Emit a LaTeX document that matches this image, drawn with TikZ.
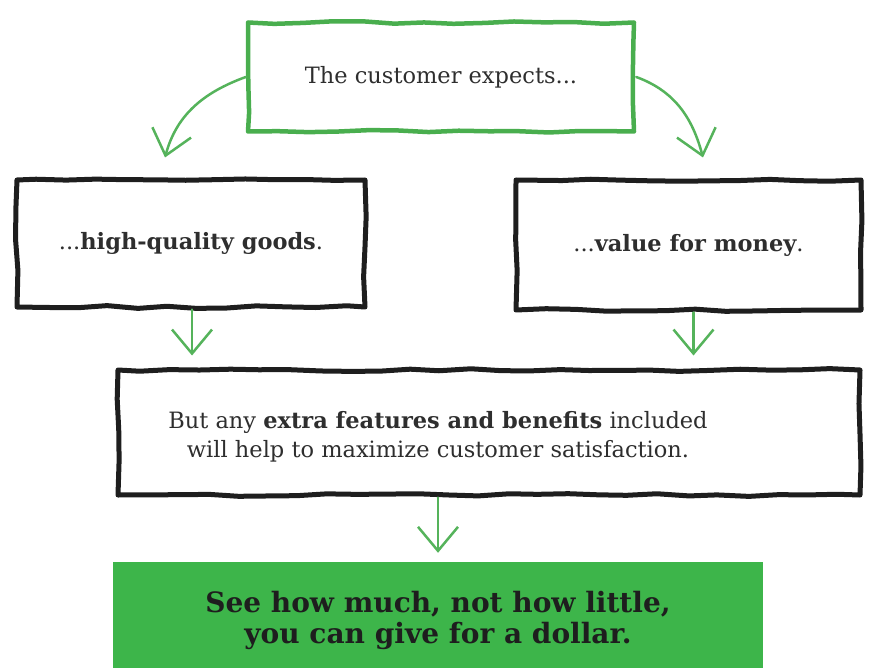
\documentclass[tikz,border=0pt]{standalone}
\usepackage{fontspec}
\setmainfont{DejaVu Serif}
\usetikzlibrary{arrows.meta,decorations.pathmorphing}
\definecolor{gline}{HTML}{49AE4E}
\definecolor{garr}{HTML}{55B35B}
\definecolor{gfill}{HTML}{3DB54A}
\definecolor{ink}{HTML}{1E1E1E}
\definecolor{bodyink}{HTML}{2E2E2E}
\begin{document}
\begin{tikzpicture}[x=1pt,y=-1pt,
  sketch/.style={draw=ink, line width=5pt, line join=round, decorate,
    decoration={random steps, segment length=30pt, amplitude=1.4pt},
    inner sep=0pt, align=center, text=bodyink},
  gsketch/.style={sketch, draw=gline, line width=4.5pt},
  garrow/.style={draw=garr, line width=2.5pt, line cap=round,
    -{Straight Barb[length=24pt,width=40pt,line width=2.5pt]}},
  body/.style={font=\fontsize{22.5}{29}\selectfont, text=bodyink, align=center},
  bigtext/.style={font=\fontsize{28}{31}\selectfont\bfseries, text=ink, align=center}
]
\useasboundingbox (0,0) rectangle (874,668);
\pgfmathsetseed{7}
\node[gsketch, body, minimum width=386pt, minimum height=109pt] (top) at (441,77) {The customer expects...};
\node[sketch, body, minimum width=348pt, minimum height=127pt] (lbox) at (191,243.5) {...\textbf{high-quality goods}.};
\node[sketch, body, minimum width=345pt, minimum height=130pt] (rbox) at (688.5,245) {...\textbf{value for money}.};
\node[sketch, minimum width=742pt, minimum height=125pt] (mid) at (489,432.5) {};
\node[body] (midtext) at (438,437) {But any \textbf{extra features and benefits} included\\will help to maximize customer satisfaction.};
\node[fill=gfill, minimum width=650pt, minimum height=106pt, inner sep=0pt] (res) at (438,615) {};
\node[bigtext] (restext) at (438,620) {See how much, not how little,\\you can give for a dollar.};
\draw[garrow] (top.west) to[out=200,in=75] ([xshift=-26pt,yshift=20pt]lbox.north);
\draw[garrow] (top.east) to[out=-20,in=105] ([xshift=14.5pt,yshift=20pt]rbox.north);
\draw[garrow] ([xshift=1pt]lbox.south) -- ([xshift=1pt,yshift=12pt]lbox.south |- mid.north);
\draw[garrow] ([xshift=5pt]rbox.south) -- ([xshift=5pt,yshift=12pt]rbox.south |- mid.north);
\draw[garrow] ([xshift=-51pt]mid.south) -- ([xshift=-51pt,yshift=9pt]mid.south |- res.north);
\end{tikzpicture}
\end{document}
